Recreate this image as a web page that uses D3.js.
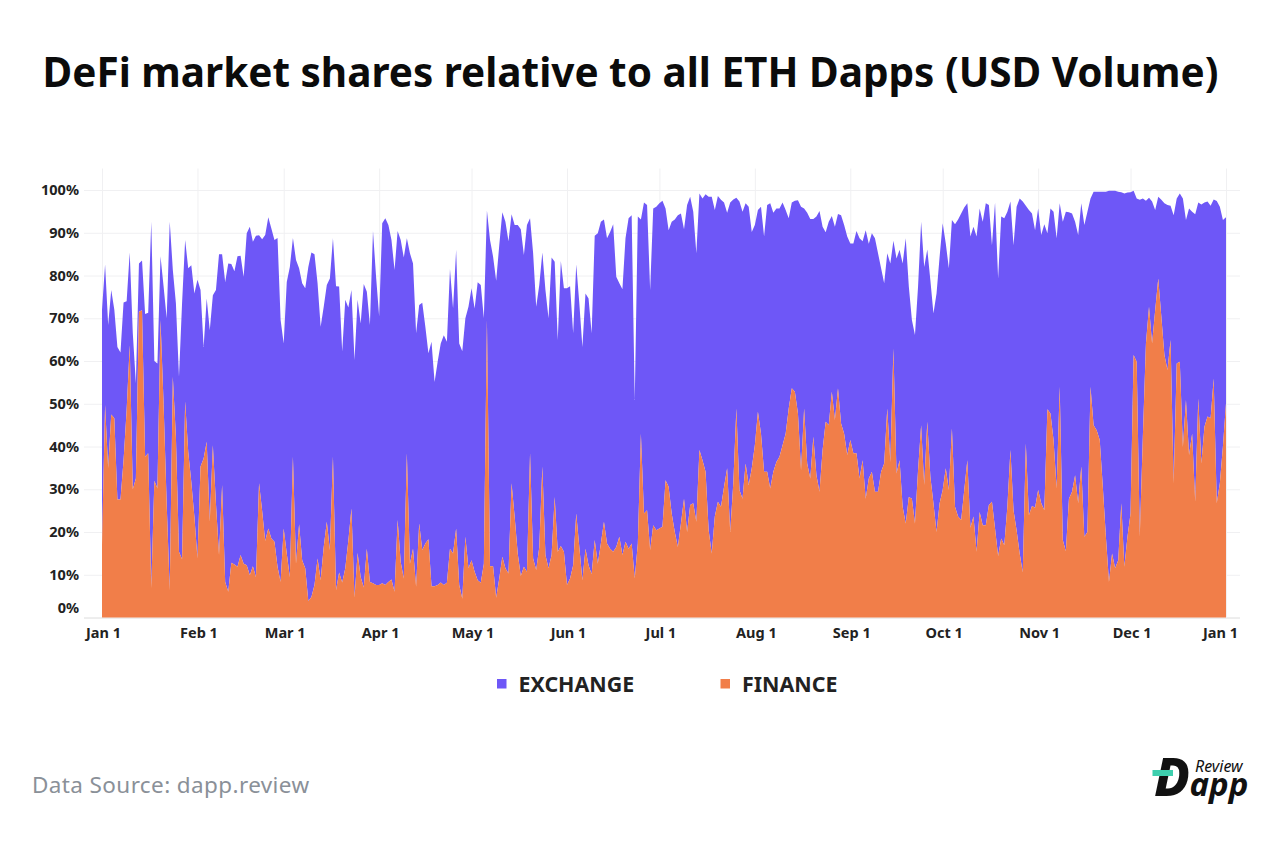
<!DOCTYPE html>
<html>
<head>
<meta charset="utf-8">
<script src="https://cdn.jsdelivr.net/npm/d3@7"></script>
<style>
  body { margin: 0; background: #fff; }
  text { font-family: "Noto Sans", sans-serif; }
</style>
</head>
<body>
<div id="chart"></div>
<script>
// daily share of USD volume, one value per day starting Jan 1
const combinedShare = [
  72,82.6,68.4,76.6,72,63.3,62,73.7,74,85.4,
  66.5,54.8,82.8,83.5,71,71.3,92.6,60,59.4,84.5,
  77.4,70,92.6,81.3,73.5,56.3,73.5,88.3,81.7,82.4,
  75.8,79,76.6,63.3,74.6,67.2,75.4,76.6,85,85,
  78.5,82.8,82.7,81,84.5,84.6,79.7,89.9,91.4,87.9,
  89.3,89.4,88.5,89.5,93.6,91,88.3,88.8,69.6,64.1,
  78.5,82,88.8,83.6,81.7,78.2,77,82,85.4,85,
  78.2,68,72.7,77.8,79.3,88.7,77.5,77.4,62.2,74.3,
  72.5,76.6,60.2,74.3,68.8,78,76.2,68.4,90.4,79.7,
  70.4,92.2,93.4,91.8,88.3,81.3,90.4,88.3,84.2,88.7,
  85.2,82.8,66.5,73.1,73.6,68,61.8,64.5,55.1,59.8,
  64.1,66,64.5,81.5,72.3,86,64.1,62.3,70,72.7,
  77,72.3,78.4,77.8,70,95.2,88.3,84.4,78.8,87,
  94.8,92.6,88,94.3,91.8,91.8,90.8,84.8,91.8,93.4,
  85.2,72.7,77.8,85.4,76.6,70,84.2,83.2,64.9,83.4,
  77,77,77.5,66.5,82.6,73.5,63.3,75.8,74.6,66.5,
  89.3,89.9,92.6,93.1,88.7,90.2,92,79.7,78.2,76.8,
  88.7,93.4,94.1,50.9,93.8,93.1,97.1,96.5,76.6,95.7,
  96.1,96.9,97.5,95.7,90.6,92.6,93.1,94.1,94.5,90.8,
  96.5,98.4,94.9,85.2,99.2,98,99,98.4,98.4,95.3,
  98.6,97.7,97.1,94.7,97.1,97.8,98.2,97.3,94.9,96.9,
  96.1,90.2,91.8,95.3,96.1,89.1,96.5,96.9,94.7,95.7,
  95.7,97.1,95.3,93.4,97.1,97.5,97.6,96.1,95.7,94.7,
  93.2,93.2,93.8,95.1,91.4,90.1,92.6,93.9,91.4,94.4,
  94.1,91.8,89.1,87.5,87.5,90.4,88.7,88,90.6,87.4,
  89.9,88.7,85.2,81.7,78.2,85.2,82.8,88.1,84,86,
  82.8,88.7,77.4,69.6,66.1,77.4,92.6,82,86.1,78.9,
  71.1,75.8,84.4,92.2,87.5,81.7,93,92,93.1,94.5,
  95.9,96.9,89.1,91.4,89.1,95.7,92.6,96.9,96.5,87.1,
  97.1,79.3,93.8,93.4,94.9,97.3,87.1,96.1,98,97.3,
  96.3,95.3,94.5,90.6,95.7,89.5,92,89.9,95.7,94.9,
  88.7,96.9,92.6,94.9,94.8,94.5,92.6,89.5,96.9,91.8,
  94.9,98,99.6,99.6,99.6,99.6,99.6,99.8,99.8,99.8,
  99.6,99.5,99.2,99.4,99.5,99.8,98,97.7,98,97.5,
  98.2,97.3,95.3,98.4,97.7,96.9,96.5,96.3,94.1,98,
  99.2,98,93,95.7,94.9,94.3,97.1,96.6,97.1,97.3,
  96.3,97.8,97.4,96.1,93,93.6
];
const financeShare = [
  16.9,49.7,35,47.5,46.6,27.6,27.6,36.8,48.5,63.7,
  30,32.5,71.5,71.9,37.6,38.4,6.9,32,30.2,69.6,
  50,26.7,6.4,56.3,42.3,15.4,13.6,50.5,38.8,31.7,
  23.6,13.8,35.3,37.2,41.1,22.4,40.3,26.7,14.6,31,
  8.3,6,12.8,12.4,11.9,14.6,12.6,12.2,9.9,12,
  9.4,31.4,25,17.9,20.8,18.5,17.7,11.9,8.3,20.8,
  15,9.4,37.6,12.6,21.8,13.4,11.5,3.8,4.8,7.6,
  13.8,8.7,16.5,22.4,15.8,37.6,6.4,10.5,8.2,11.5,
  18,25.5,4.6,15.1,9.5,7,16.1,8.3,8,7.6,
  7.6,8,7.6,8.3,8.9,6,22.8,13,9.1,38.4,
  12.6,16.1,7.2,22,15.8,17.3,18.3,7.3,7.3,7.6,
  8.2,7.6,8.1,16.1,15,20.8,7.6,4.4,18.9,11.5,
  13.4,10.7,8.7,8.1,12.6,69.6,12,12,4.6,9.1,
  14.2,11.5,10.3,31.4,23.6,15,9.7,11.9,10.7,38.4,
  13.8,11.1,16.5,35.3,14.6,11.5,14.6,28.2,15.4,16.7,
  15.4,7.6,9.1,12.2,24.3,16.5,8.7,16.1,12.2,10.1,
  18.1,12.6,17.3,22.4,17.3,16.1,15.4,16.5,18.9,14.6,
  17.7,16.1,17.3,9.1,17.3,43,24.3,25.1,15.8,21.6,
  20.4,20.8,21.2,32.1,30.6,24.3,20,16.5,22,27.8,
  20,26.3,26.7,22.4,39.2,36.8,34.1,20.4,15,23.6,
  27.1,25.9,30.6,34.9,20,31.4,48.9,29.8,27.8,36,
  31,34.9,40.3,48.1,43,34.1,34.1,30.2,34.1,36.4,
  37.6,40.3,43,48.9,53.6,52.8,47.7,34.5,48.9,36,
  32.5,42.3,33.3,29.4,39.2,45.8,45,52.8,46.2,53.6,
  45.4,43,38,41.5,38.4,38.4,32.5,36.8,27.8,32.5,
  34.1,29.4,29.4,34.1,36,48.9,36.4,62.9,33.7,36.8,
  25.9,22,28.2,27.8,22,34.5,45,31,45.8,32.9,
  26.7,20,26.7,29.8,34.9,29.8,44.2,25.9,23.6,22.8,
  29.8,36.8,21,23.6,15.4,24.7,21.6,21.6,26.3,27.1,
  20.8,14.4,18.5,16.9,25.9,39.2,25.1,20.4,15,10.5,
  40.7,23.9,26.1,25.7,29.8,26.7,25.1,48.7,47.7,41.5,
  30.2,54,18.1,15.5,27.8,29.4,33.3,26.7,35.3,18.9,
  20,54,45,43.8,41.5,30.6,18.9,8.3,15,11.5,
  13.4,26.7,11.9,18.9,24.3,61.4,59.8,18.9,42.3,64.1,
  72.7,64.1,71.9,79.3,70.4,61.4,57.9,64.9,31.4,59.4,
  59.8,39.9,50.9,38,43,27.1,51.2,36,44.6,47,
  46.6,55.9,26.7,31.4,40,50.1
];
const yTicks = [0, 10, 20, 30, 40, 50, 60, 70, 80, 90, 100];
const monthTicks = ["2019-01-01", "2019-02-01", "2019-03-01", "2019-04-01", "2019-05-01", "2019-06-01",
  "2019-07-01", "2019-08-01", "2019-09-01", "2019-10-01", "2019-11-01", "2019-12-01", "2020-01-01"];
const seriesNames = ["EXCHANGE", "FINANCE"];

const exchangeColor = "#6e57f7";
const financeColor = "#f17e49";
const gridColor = "#f0f0f2";

const width = 1280, height = 843;
const parseDay = d3.utcParse("%Y-%m-%d");
const startDay = parseDay("2019-01-01");
const days = combinedShare.map((d, i) => d3.utcDay.offset(startDay, i));

const x = d3.scaleUtc()
    .domain([startDay, parseDay("2020-01-01")])
    .range([102, 1226]);
const y = d3.scaleLinear()
    .domain([0, 100])
    .range([617.5, 190]);

const svg = d3.select("#chart").append("svg")
    .attr("width", width)
    .attr("height", height)
    .attr("viewBox", [0, 0, width, height])
    .style("display", "block");

svg.append("text")
    .attr("x", 630.5)
    .attr("y", 87)
    .attr("text-anchor", "middle")
    .attr("font-size", 40.5)
    .attr("font-weight", 700)
    .attr("fill", "#0b0b0b")
    .text("DeFi market shares relative to all ETH Dapps (USD Volume)");

// horizontal grid + y labels
svg.append("g")
    .attr("transform", "translate(84,0)")
    .call(d3.axisLeft(y).tickValues(yTicks).tickSize(0).tickPadding(5).tickFormat(d => d + "%"))
    .call(g => g.select(".domain").remove())
    .call(g => g.selectAll(".tick").append("line")
        .attr("x2", 1156)
        .attr("stroke", d => d === 0 ? "#dcdcdc" : gridColor))
    .call(g => g.selectAll(".tick text")
        .attr("font-family", "Noto Sans")
        .attr("font-size", 14.5)
        .attr("font-weight", 700)
        .attr("fill", "#222")
        .attr("dy", d => d === 0 ? "-4.8px" : "0.32em"));

// vertical grid + x labels
const lastTick = monthTicks.length - 1;
svg.append("g")
    .attr("transform", "translate(0,617.5)")
    .call(d3.axisBottom(x).tickValues(monthTicks.map(parseDay)).tickSize(0).tickPadding(10).tickFormat(d3.utcFormat("%b %-d")))
    .call(g => g.select(".domain").remove())
    .call(g => g.selectAll(".tick").append("line")
        .attr("y2", -449)
        .attr("stroke", gridColor))
    .call(g => g.selectAll(".tick text")
        .attr("font-family", "Noto Sans")
        .attr("font-size", 14.5)
        .attr("font-weight", 700)
        .attr("fill", "#222")
        .attr("dx", (d, i) => i === lastTick ? -6 : 1));

const exchangeArea = d3.area()
    .x((d, i) => x(days[i]))
    .y0((d, i) => y(financeShare[i]))
    .y1(d => y(d));
const financeArea = d3.area()
    .x((d, i) => x(days[i]))
    .y0(y(0))
    .y1(d => y(d));

svg.append("path")
    .attr("fill", exchangeColor)
    .attr("d", exchangeArea(combinedShare));
svg.append("path")
    .attr("fill", financeColor)
    .attr("d", financeArea(financeShare));

// legend
const legend = svg.append("g")
    .selectAll("g")
    .data(seriesNames)
    .join("g")
    .attr("transform", (d, i) => `translate(${497 + i * 223.5},0)`);
legend.append("rect")
    .attr("y", 679)
    .attr("width", 9.5)
    .attr("height", 9.5)
    .attr("fill", (d, i) => i === 0 ? exchangeColor : financeColor);
legend.append("text")
    .attr("x", 21.5)
    .attr("y", 692)
    .attr("font-size", 21.4)
    .attr("font-weight", 700)
    .attr("fill", "#222")
    .text(d => d);

svg.append("text")
    .attr("x", 32)
    .attr("y", 793)
    .attr("font-size", 22.5)
    .attr("letter-spacing", 0.39)
    .attr("fill", "#8a9098")
    .text("Data Source: dapp.review");

// logo
const logo = svg.append("g");
logo.append("text")
    .attr("x", 1154)
    .attr("y", 796)
    .attr("font-size", 53)
    .attr("font-weight", 800)
    .attr("font-style", "italic")
    .attr("fill", "#111")
    .text("D");
logo.append("text")
    .attr("x", 1189.5)
    .attr("y", 796)
    .attr("font-size", 33)
    .attr("font-weight", 700)
    .attr("font-style", "italic")
    .attr("fill", "#111")
    .text("app");
logo.append("text")
    .attr("x", 1195)
    .attr("y", 772)
    .attr("font-size", 16)
    .attr("font-style", "italic")
    .attr("fill", "#111")
    .text("Review");
logo.append("rect")
    .attr("x", 1152.5)
    .attr("y", 770)
    .attr("width", 20.5)
    .attr("height", 6)
    .attr("fill", "#3ecfae");
</script>
</body>
</html>
